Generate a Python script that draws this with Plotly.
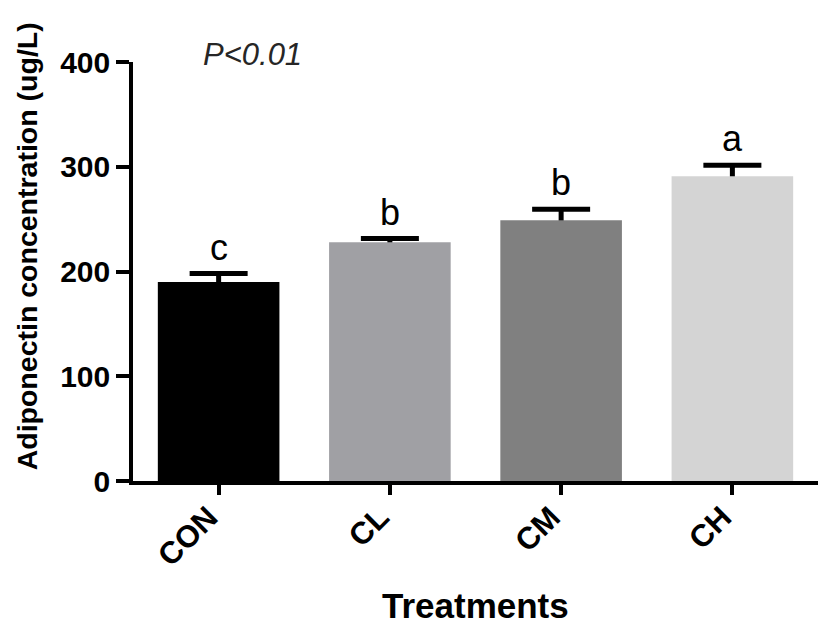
import plotly.graph_objects as go

categories = ["CON", "CL", "CM", "CH"]
means = [190, 228, 249, 291]
sem = [8, 3.5, 10.5, 10.5]
letters = ["c", "b", "b", "a"]
colors = ["#000000", "#a0a0a4", "#808080", "#d4d4d4"]
y_ticks = [0, 100, 200, 300, 400]

FONT = "Liberation Sans, Arial, sans-serif"

fig = go.Figure()
# transparent bars carrying the (upward) error bars; the visible bars are
# drawn afterwards on top so the lower part of each error bar is hidden
fig.add_trace(go.Bar(
    x=categories, y=means,
    marker=dict(color="rgba(0,0,0,0)", line=dict(width=0)),
    error_y=dict(type="data", symmetric=False, array=sem,
                 arrayminus=[4] * len(sem), color="#000000",
                 thickness=5, width=29),
    showlegend=False, hoverinfo="skip",
))
fig.add_trace(go.Bar(
    x=categories, y=means,
    marker=dict(color=colors, line=dict(width=0)),
    showlegend=False,
))

for c, m, s, t in zip(categories, means, sem, letters):
    fig.add_annotation(x=c, y=m + s, text=t, showarrow=False,
                       xref="x", yref="y", yanchor="bottom", yshift=4,
                       font=dict(family=FONT, size=36, color="#000000"))

fig.add_annotation(x=0.175, y=1.0, xref="paper", yref="paper",
                   text="<i>P<0.01</i>", showarrow=False,
                   xanchor="center", yanchor="middle", yshift=8,
                   font=dict(family=FONT, size=31, color="#262626"))

fig.add_annotation(x=0, y=0.56, xref="paper", yref="paper",
                   text="Adiponectin concentration (ug/L)", textangle=-90,
                   showarrow=False, xanchor="center", yanchor="middle",
                   xshift=-106,
                   font=dict(family=FONT, size=28.5, color="#000000", weight="bold"))

fig.add_annotation(x=0.5, y=0, xref="paper", yref="paper",
                   text="Treatments", showarrow=False,
                   xanchor="center", yanchor="middle", yshift=-124,
                   font=dict(family=FONT, size=35, color="#000000", weight="bold"))

fig.update_layout(
    width=819, height=620,
    margin=dict(l=125, r=9, t=54, b=147),
    paper_bgcolor="#ffffff", plot_bgcolor="#ffffff",
    barmode="overlay",
    bargap=0.29,
    xaxis=dict(range=[-0.5, 3.5], showline=True, linecolor="#000000",
               linewidth=3.5, ticks="outside", ticklen=10, tickwidth=3.5,
               tickcolor="#000000", tickangle=-45, showgrid=False,
               automargin=False, ticklabelshift=-10, ticklabelstandoff=-8,
               tickfont=dict(family=FONT, size=31, color="#000000", weight="bold")),
    yaxis=dict(range=[0, 400], tickvals=y_ticks, showline=True,
               linecolor="#000000", linewidth=3.5, ticks="outside",
               ticklen=13, tickwidth=3.5, tickcolor="#000000",
               showgrid=False, zeroline=False, automargin=False,
               tickfont=dict(family=FONT, size=30, color="#000000", weight="bold")),
)

fig.write_html("out.html")
